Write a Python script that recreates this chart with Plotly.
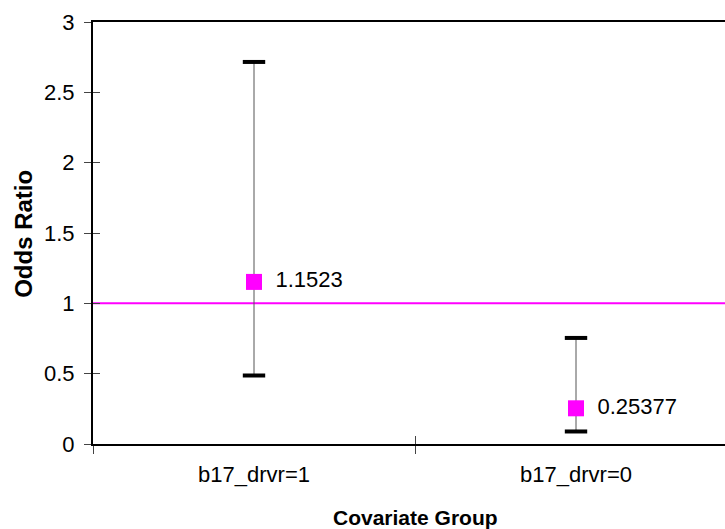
import plotly.graph_objects as go

categories = ["b17_drvr=1", "b17_drvr=0"]
odds_ratio = [1.1523, 0.25377]
ci_lower = [0.487, 0.089]
ci_upper = [2.716, 0.754]
point_labels = ["1.1523", "0.25377"]
ref_value = 1
y_ticks = [0, 0.5, 1, 1.5, 2, 2.5, 3]
y_ticktext = ["0", "0.5", "1", "1.5", "2", "2.5", "3"]

xpos = list(range(len(categories)))
FONT = "Liberation Sans, Arial, sans-serif"

fig = go.Figure()
# vertical CI line
fig.add_trace(go.Scatter(
    x=xpos, y=ci_lower, mode="markers", marker=dict(size=0.1, color="rgba(0,0,0,0)"),
    error_y=dict(type="data", symmetric=False,
                 array=[u - l for u, l in zip(ci_upper, ci_lower)],
                 arrayminus=[0] * len(ci_lower),
                 color="#555555", thickness=1, width=0),
    hoverinfo="skip", showlegend=False))
# caps
fig.add_trace(go.Scatter(
    x=xpos + xpos, y=ci_lower + ci_upper, mode="markers",
    marker=dict(symbol="line-ew", size=16, line=dict(width=4, color="black")),
    hoverinfo="skip", showlegend=False))
# points
fig.add_trace(go.Scatter(
    x=xpos, y=odds_ratio, mode="markers+text",
    marker=dict(symbol="square", size=16, color="#FF00FF"),
    text=["\u00a0\u2009" + t for t in point_labels], textposition="middle right",
    textfont=dict(family=FONT, size=22, color="black"),
    showlegend=False))

fig.add_hline(y=ref_value, line=dict(color="#FF00FF", width=2), layer="below")

fig.update_layout(
    width=725, height=529,
    margin=dict(l=93, r=0, t=22, b=85),
    paper_bgcolor="white", plot_bgcolor="white",
    font=dict(family=FONT, size=22, color="black"),
    xaxis=dict(
        range=[-0.5, 1.4627], tickmode="array", tickvals=xpos, ticktext=categories,
        ticks="", showgrid=False, zeroline=False,
        showline=True, linecolor="black", linewidth=2, mirror=True,
        tickfont=dict(size=22), ticklabelstandoff=10,
        minor=dict(tickmode="array", tickvals=[-0.5, 0.5, 1.5], ticks="outside",
                   ticklen=8, tickcolor="#444444", tickwidth=1),
    ),
    xaxis2=dict(overlaying="x", matches="x", side="bottom", tickmode="array",
                tickvals=[-0.5, 0.5, 1.5], ticks="inside", ticklen=8,
                tickcolor="#444444", showticklabels=False, showgrid=False,
                zeroline=False, showline=False),
    yaxis=dict(
        range=[0, 3], tickmode="array", tickvals=y_ticks, ticktext=y_ticktext,
        ticks="outside", ticklen=7, tickcolor="#444444", tickwidth=1,
        showgrid=False, zeroline=False,
        showline=True, linecolor="black", linewidth=2,
        tickfont=dict(size=22), ticklabelstandoff=5,
    ),
    yaxis2=dict(overlaying="y", matches="y", tickmode="array", tickvals=y_ticks,
                ticks="inside", ticklen=7, tickcolor="#444444",
                showticklabels=False, showgrid=False, zeroline=False, showline=False),
)
# dummy trace to activate overlay axes
fig.add_trace(go.Scatter(x=[xpos[0]], y=[odds_ratio[0]], xaxis="x2", yaxis="y2",
                         mode="markers", marker=dict(opacity=0), hoverinfo="skip",
                         showlegend=False))

fig.add_annotation(text="<b>Covariate Group</b>", xref="x", yref="paper",
                   x=0.5, y=-0.173, yanchor="middle", xanchor="center",
                   showarrow=False, font=dict(size=21, family=FONT))
fig.add_annotation(text="<b>Odds Ratio</b>", xref="paper", yref="paper",
                   x=-0.111, y=0.4976, yanchor="middle", xanchor="center", textangle=-90,
                   showarrow=False, font=dict(size=24, family=FONT))

fig.write_html("out.html")
